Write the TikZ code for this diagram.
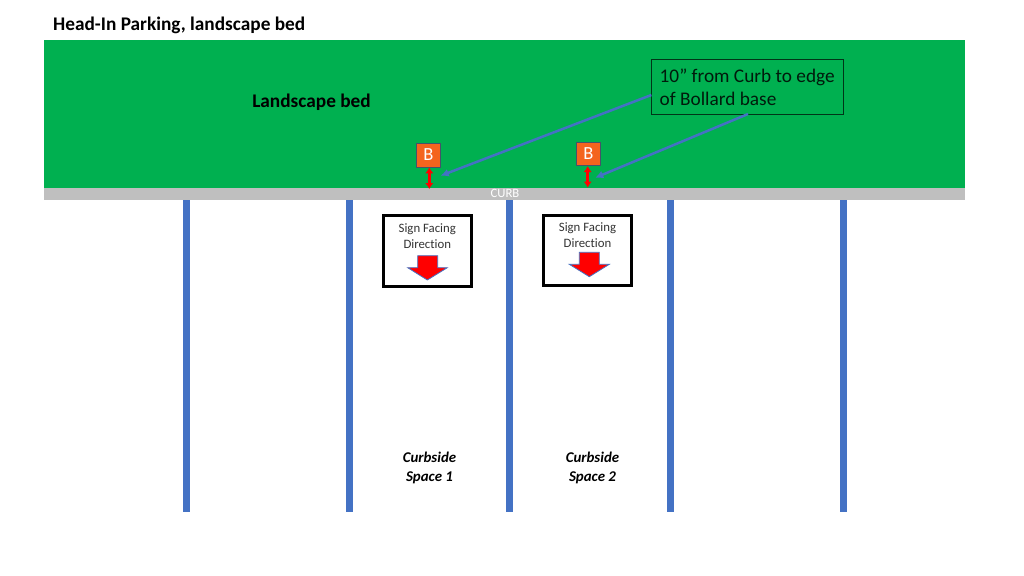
\documentclass[tikz,border=0pt]{standalone}
\usepackage{fontspec}
\setmainfont[Ligatures=CommonOff]{Carlito}
\usetikzlibrary{arrows.meta}
\definecolor{bedgreen}{HTML}{00B050}
\definecolor{curbgray}{HTML}{BFBFBF}
\definecolor{lineblue}{HTML}{4472C4}
\definecolor{boxorange}{HTML}{F4641E}
\definecolor{edgeblue}{HTML}{44546A}
\definecolor{signtext}{HTML}{333333}
\tikzset{
  x=1pt,y=-1pt,
  bay/.style={fill=lineblue,draw=none},
  bollard/.style={draw=edgeblue,line width=0.8pt,fill=boxorange,text=white,minimum width=24.5pt,minimum height=24pt,inner sep=0pt,font=\fontsize{18.5}{18.5}\selectfont},
  signbox/.style={draw=black,line width=3pt,fill=white,minimum width=87.5pt,minimum height=70.5pt,inner sep=0pt},
  signlabel/.style={align=center,text=signtext,font=\fontsize{12.8}{15.5}\selectfont,inner sep=0pt},
  gap/.style={red,line width=2.6pt,{Latex[length=6pt,width=8.5pt]}-{Latex[length=6pt,width=8.5pt]}},
  leader/.style={lineblue,line width=2.5pt,-{Latex[length=8pt,width=8pt]}},
  downarrow/.style={fill=red,draw=lineblue,line width=0.8pt},
  space/.style={align=center,font=\fontsize{14.9}{18.2}\selectfont\bfseries\itshape,inner sep=0pt}
}
\begin{document}
\begin{tikzpicture}
\useasboundingbox (0,0) rectangle (1024,575);
\fill[white] (0,0) rectangle (1024,575);
\node[anchor=west,inner sep=0pt,font=\fontsize{19.3}{19.3}\selectfont\bfseries] (title) at (53,25) {Head-In Parking, landscape bed};
\fill[bedgreen] (44,40) rectangle (965,187.5);
\fill[curbgray] (44,187.5) rectangle (965,199.5);
\node[text=white,inner sep=0pt,font=\fontsize{12.7}{12.7}\selectfont] (curb) at (505,193.5) {CURB};
\foreach \x in {183,346,506,667,840} \fill[bay] (\x,199.5) rectangle (\x+6.5,512);
\node[font=\fontsize{19.3}{19.3}\selectfont\bfseries,inner sep=0pt] (bed) at (311.5,102) {Landscape bed};
\node[bollard] (b1) at (428.3,155) {B};
\node[bollard,minimum height=23.5pt] (b2) at (588.5,154) {B};
\coordinate (c1) at (429.3,189);
\coordinate (c2) at (587.7,187.5);
\draw[gap] (b1.south -| c1) -- (c1);
\draw[gap] (b2.south -| c2) -- (c2);
\node[draw=black!70!bedgreen,line width=0.8pt,minimum width=191.5pt,minimum height=54.5pt,inner sep=0pt] (note) at (747.5,86.7) {};
\node[anchor=west,align=left,inner sep=0pt,text=black!85!bedgreen,font=\fontsize{19.3}{23}\selectfont] (notetext) at (659.5,87.5) {10” from Curb to edge\\of Bollard base};
\coordinate (t1) at (440.7,175.7);
\coordinate (t2) at (595.3,177.7);
\coordinate (n1) at (note.west |- 0,95);
\coordinate (n2) at (748,114);
\draw[leader] (n1) -- (t1);
\draw[leader] (n2) -- (t2);
\node[signbox] (s1) at (427.3,251) {};
\node[signbox] (s2) at (587.7,250.5) {};
\node[signlabel] (l1) at (427.3,236) {Sign Facing\\Direction};
\node[signlabel] (l2) at (587.5,235.3) {Sign Facing\\Direction};
\draw[downarrow] (417.7,255.7) -- (437.7,255.7) -- (437.7,267.7) -- (447.3,267.7) -- (427.3,280) -- (407.7,267.7) -- (417.7,267.7) -- cycle;
\draw[downarrow] (579.3,252.3) -- (599.3,252.3) -- (599.3,264.3) -- (609.3,264.3) -- (589.3,276.7) -- (569.3,264.3) -- (579.3,264.3) -- cycle;
\node[space] (sp1) at (429.5,468) {Curbside\\Space 1};
\node[space] (sp2) at (592.5,468) {Curbside\\Space 2};
\end{tikzpicture}
\end{document}
